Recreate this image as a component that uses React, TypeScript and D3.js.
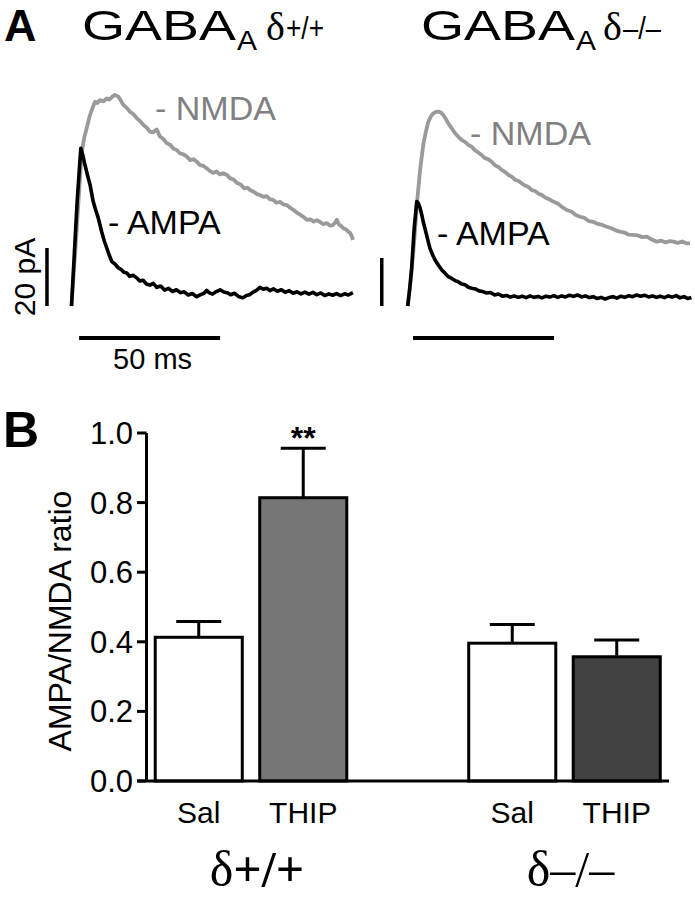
import React from "react";
import * as d3 from "d3";

// ---------- Panel A: traces, [time (ms), current (pA)] ----------
const ampaWT: [number, number][] = [
  [0, 0], [1, 18], [2, 36], [3.3, 54.4], [4, 52], [4.8, 48.6], [5.7, 45], [6.6, 41.7], [7.7, 36], [8.6, 33],
  [9.5, 30.3], [10.7, 25.6], [11.6, 22.5], [12.5, 20], [13.4, 17.5], [14.3, 15.3], [15.4, 14.5], [16.6, 13.1],
  [17.6, 12.6], [18.6, 11.6], [19.6, 11.4], [20.6, 10.2], [21.8, 10.6], [23.1, 9.7], [24.2, 8.6], [25.4, 8.9],
  [26.6, 7.6], [27.8, 7.2], [29, 7.8], [30.3, 6.4], [31.6, 6.9], [33, 5.5], [34.4, 6.1], [35.8, 5], [37.2, 5.6],
  [38.6, 4.6], [40, 4.9], [41.4, 3.8], [42.8, 4.3], [44.4, 3.2], [45.8, 3.9], [47, 4.4], [47.9, 5.4], [48.8, 4.6],
  [50, 4.1], [51.2, 4.9], [52.7, 5.6], [54, 4.8], [55.2, 4.6], [56.4, 3.9], [57.8, 4.4], [59.2, 3.3], [60.8, 2.8],
  [62, 3.6], [63.2, 3.9], [64.4, 4.8], [65.6, 5.4], [66.8, 6.4], [68, 5.8], [69.2, 6.1], [70.4, 5.3], [71.6, 5.9],
  [73, 5.1], [74.4, 5.6], [75.8, 4.7], [77.2, 5.3], [78.6, 4.4], [80, 4.9], [81.4, 4.2], [82.8, 4.8], [84.2, 4.1],
  [85.6, 4.7], [87, 3.9], [88.4, 4.5], [89.8, 3.6], [91.2, 4.2], [92.6, 3.7], [94, 4.3], [95.4, 3.6], [96.8, 4.2],
  [98.2, 3.8], [99.8, 4.6],
];

const nmdaWT: [number, number][] = [
  [0, 0], [1.2, 17], [2.4, 35], [3.6, 52.8], [4.5, 58], [5.4, 61.4], [6.3, 65], [7.2, 67.6], [8.3, 70.4], [9.2, 70],
  [10.1, 71], [11.3, 70.6], [12.5, 71.6], [13.4, 71.2], [14.4, 72.1], [15.4, 72.8], [16.6, 72.2], [17.4, 71],
  [18.4, 69.3], [19.5, 68.4], [20.7, 67], [21.9, 66.2], [23.1, 64.8], [24.3, 63.8], [25.5, 62.4], [26.7, 61.5],
  [27.8, 60.1], [29, 59.9], [30.2, 60.9], [31.4, 58.4], [32.6, 57.6], [33.8, 56.1], [35, 55.6], [36.2, 54.2],
  [37.3, 53.8], [38.5, 52.6], [39.7, 52.3], [40.9, 51.5], [42.1, 50.3], [43.3, 50.6], [44.4, 49.8], [45.6, 48.6],
  [46.8, 48.3], [47.9, 47.5], [49, 46.6], [50.2, 45.9], [51.4, 46.4], [52.6, 45.4], [53.8, 45.8], [55.1, 45.2],
  [56.3, 44], [57.5, 43.6], [58.7, 42.4], [60, 41.9], [61.2, 40.6], [62.4, 40.8], [63.3, 40], [64.6, 39.4],
  [65.8, 38.6], [66.8, 38.3], [68, 37.6], [69.2, 37.9], [70.4, 36.8], [71.5, 36.6], [72.7, 35.6], [74, 35.9],
  [75.2, 35], [76.4, 34.8], [77.6, 33.8], [78.8, 33.1], [80, 32.1], [81.2, 31.4], [82.4, 30.6], [83.5, 29.7],
  [84.7, 29.9], [85.9, 29.1], [87, 29.6], [88.1, 29], [89.3, 28.2], [90.5, 28.6], [91.6, 27.7], [92.7, 27.9],
  [93.5, 28.8], [94.1, 29.7], [94.8, 28.1], [95.6, 27.6], [96.3, 26.9], [97.2, 26.5], [98, 25.8], [98.8, 25.2],
  [99.4, 24], [99.8, 22.8],
];

const ampaKO: [number, number][] = [
  [0, 0], [0.7, 7], [1.4, 15.7], [2.3, 32.4], [3.2, 43.5], [3.8, 42.8], [4.4, 40.8], [5, 38], [5.5, 35.1],
  [6.1, 32.4], [6.7, 29.6], [7.3, 26.7], [7.9, 24], [8.8, 21.4], [9.7, 19.2], [10.9, 17], [12.1, 15], [13.2, 13.7],
  [14.4, 12.2], [15.6, 11.5], [16.8, 10.6], [17.9, 10.1], [19.1, 9.2], [20.3, 8.9], [21.5, 7.8], [22.7, 7.4],
  [24, 7.1], [25.3, 6.3], [26.6, 6], [28, 5.4], [29.4, 5.6], [30.8, 4.6], [32.2, 5], [33.6, 4.1], [35, 4.4],
  [36.4, 3.7], [37.8, 4.2], [39.2, 3.6], [40.6, 4.1], [42, 3.5], [43.4, 4.2], [44.8, 3.6], [46.2, 4], [47.6, 3.4],
  [49, 4.1], [50.4, 3.7], [51.8, 4.3], [53.2, 3.6], [54.6, 4.2], [56, 3.8], [57.4, 4.5], [58.8, 4], [60.2, 4.6],
  [61.6, 3.8], [63, 4.2], [64.4, 3.5], [65.8, 3.9], [67.2, 3.1], [68.6, 3.6], [70, 2.9], [71.4, 3.5], [72.8, 3.9],
  [74.2, 3.3], [75.6, 4.1], [77, 3.6], [78.4, 4.3], [79.8, 3.9], [81.2, 4.6], [82.6, 4.1], [84, 4.5], [85.4, 3.8],
  [86.8, 4.2], [88.2, 3.6], [89.6, 4.1], [91, 3.5], [92.4, 4.2], [93.8, 3.7], [95.2, 4.3], [96.6, 3.4], [98, 3.9],
  [99.4, 3.1], [100.6, 3.5],
];

const nmdaKO: [number, number][] = [
  [0, 0], [1, 10], [1.9, 21.3], [2.7, 33], [3.4, 44.2], [4.4, 56.7], [5.5, 67.1], [6.4, 72.5], [7.3, 76.7],
  [8.2, 79], [9.1, 80.3], [10, 80.9], [10.9, 81], [11.8, 80.6], [12.6, 79.6], [13.5, 78], [14.4, 76.1], [15.6, 74],
  [16.8, 72], [17.9, 70.6], [19.1, 69.2], [20.3, 68.4], [21.5, 67.1], [22.7, 66.4], [23.9, 64.8], [25, 64],
  [26.2, 62.9], [27.4, 61.6], [28.6, 61.1], [29.8, 60.1], [31, 58.6], [32.2, 57.9], [33.3, 56.7], [34.5, 55.9],
  [35.7, 54.6], [36.9, 53.9], [38.1, 52.6], [39.3, 52.1], [40.4, 51.1], [41.6, 50.2], [42.8, 49.6], [44, 48.3],
  [45.2, 47.9], [46.4, 46.8], [47.5, 46.3], [48.9, 45.1], [50.3, 44.4], [51.6, 43.5], [53.2, 42.7], [54.8, 41.2],
  [56.4, 40], [58, 39.4], [59.6, 37.9], [61.1, 37.2], [62.7, 36.7], [64.2, 35.4], [65.8, 35.1], [67.4, 34.2],
  [69, 33.8], [70.6, 33], [72.2, 32.4], [73.8, 31.5], [75.3, 31], [76.9, 30.6], [78.4, 29.7], [80, 29.6],
  [81.6, 29.4], [83.2, 28.7], [84.8, 28.9], [86.4, 27.8], [88.3, 26.8], [89.9, 27.2], [91.5, 26.5], [93, 27],
  [94.2, 26.8], [95.8, 26.3], [97.4, 26.9], [98.9, 26.1], [100.1, 26.1],
];

const scaleBarMs = 50;
const scaleBarPA = 20;

// ---------- Panel B: AMPA/NMDA ratio ----------
const conditions = ["Sal", "THIP", "Sal", "THIP"];
const slotIds = ["s1", "t1", "s2", "t2"];
const slotDomain = ["s1", "t1", "gap", "s2", "t2"];
const ratioMean = [0.413, 0.814, 0.396, 0.357];
const ratioSem = [0.045, 0.142, 0.054, 0.048];
const yTicks = [0, 0.2, 0.4, 0.6, 0.8, 1.0];
const genotypes = [
  { delta: "δ", rest: "+/+", slots: ["s1", "t1"], bold: true },
  { delta: "δ", rest: "–/–", slots: ["s2", "t2"], bold: false },
];

const SANS = "'Liberation Sans', Arial, Helvetica, sans-serif";
const SERIF = "'Liberation Serif', 'Times New Roman', serif";
const GRAY_TRACE = "#9a9a9a";
const GRAY_LABEL = "#808080";
const barFills = ["#ffffff", "#767676", "#ffffff", "#424242"];

type Pt = [number, number];

function TracePanel(props: {
  x0: number;
  yBase: number;
  pxPerPA: number;
  ampa: Pt[];
  nmda: Pt[];
  vBarT: number;
  hBarT: number;
  hBarY: number;
  showLabels: boolean;
  ampaLabel: [number, number];
  nmdaLabel: [number, number];
}) {
  const { x0, yBase, pxPerPA, ampa, nmda } = props;
  const x = d3.scaleLinear().domain([0, 100]).range([x0, x0 + 282]);
  const y = d3.scaleLinear().domain([0, scaleBarPA]).range([yBase, yBase - pxPerPA * scaleBarPA]);
  const line = d3
    .line<Pt>()
    .x((d) => x(d[0]))
    .y((d) => y(d[1]));
  return (
    <g>
      <path d={line(nmda) || ""} fill="none" stroke={GRAY_TRACE} strokeWidth={3.8} strokeLinejoin="round" />
      <path d={line(ampa) || ""} fill="none" stroke="#000" strokeWidth={3.6} strokeLinejoin="round" />
      <line x1={x(props.vBarT)} x2={x(props.vBarT)} y1={y(0)} y2={y(scaleBarPA)} stroke="#000" strokeWidth={3.5} />
      <line
        x1={x(props.hBarT)}
        x2={x(props.hBarT + scaleBarMs)}
        y1={props.hBarY}
        y2={props.hBarY}
        stroke="#000"
        strokeWidth={4}
      />
      <text x={props.nmdaLabel[0]} y={props.nmdaLabel[1]} fontFamily={SANS} fontSize={34} fill={GRAY_LABEL}>
        - NMDA
      </text>
      <text x={props.ampaLabel[0]} y={props.ampaLabel[1]} fontFamily={SANS} fontSize={34} fill="#000">
        - AMPA
      </text>
      {props.showLabels && (
        <>
          <text
            transform={`translate(${x(props.vBarT) - 12},${(y(0) + y(scaleBarPA)) / 2}) rotate(-90)`}
            textAnchor="middle"
            fontFamily={SANS}
            fontSize={30}
          >
            20 pA
          </text>
          <text
            x={(x(props.hBarT) + x(props.hBarT + scaleBarMs)) / 2 + 3}
            y={props.hBarY + 31}
            textAnchor="middle"
            fontFamily={SANS}
            fontSize={29}
          >
            50 ms
          </text>
        </>
      )}
    </g>
  );
}

function Title(props: { x: number; gabaLen: number; rest: string; restX: number; restLen: number }) {
  return (
    <g>
      <text x={props.x} y={40} fontFamily={SANS} fontSize={43} textLength={props.gabaLen} lengthAdjust="spacingAndGlyphs">
        GABA
      </text>
      <text x={props.x + props.gabaLen + 1} y={50} fontFamily={SANS} fontSize={28} textLength={20} lengthAdjust="spacingAndGlyphs">
        A
      </text>
      <text x={props.restX} y={40} fontFamily={SERIF} fontSize={40}>
        δ
      </text>
      <text
        x={props.restX + 20}
        y={39}
        fontFamily={SANS}
        fontSize={31}
        textLength={props.restLen}
        lengthAdjust="spacingAndGlyphs"
      >
        {props.rest}
      </text>
    </g>
  );
}

export default function App() {
  const W = 695;
  const H = 900;

  const xb = d3
    .scaleBand<string>()
    .domain(slotDomain)
    .range([146.5, 669])
    .paddingInner(0.167)
    .paddingOuter(0.0835);
  const yb = d3.scaleLinear().domain([0, 1]).range([781, 433]);

  return (
    <svg
      width={W}
      height={H}
      viewBox={`0 0 ${W} ${H}`}
      style={{ position: "absolute", left: 0, top: 0, background: "#fff" }}
    >
      <rect width={W} height={H} fill="#fff" />
      {/* Panel A */}
      <text x={4} y={41} fontFamily={SANS} fontWeight="bold" fontSize={45}>
        A
      </text>
      <Title x={82} gabaLen={154} rest="+/+" restX={266} restLen={38} />
      <Title x={421} gabaLen={154} rest="–/–" restX={603} restLen={38} />

      <TracePanel
        x0={71.5}
        yBase={306}
        pxPerPA={2.9}
        ampa={ampaWT}
        nmda={nmdaWT}
        vBarT={-8.7}
        hBarT={2.7}
        hBarY={338}
        showLabels={true}
        ampaLabel={[108, 234]}
        nmdaLabel={[155, 120]}
      />
      <TracePanel
        x0={407.7}
        yBase={306}
        pxPerPA={2.4}
        ampa={ampaKO}
        nmda={nmdaKO}
        vBarT={-9.2}
        hBarT={1.9}
        hBarY={338}
        showLabels={false}
        ampaLabel={[437, 245]}
        nmdaLabel={[470, 145]}
      />

      {/* Panel B */}
      <text x={3} y={447} fontFamily={SANS} fontWeight="bold" fontSize={50}>
        B
      </text>

      {/* bars */}
      {slotIds.map((s, i) => {
        const bx = xb(s) as number;
        const bw = xb.bandwidth();
        const cx = bx + bw / 2;
        return (
          <g key={s}>
            <line x1={cx} x2={cx} y1={yb(ratioMean[i])} y2={yb(ratioMean[i] + ratioSem[i])} stroke="#000" strokeWidth={3} />
            <line
              x1={cx - 22.5}
              x2={cx + 22.5}
              y1={yb(ratioMean[i] + ratioSem[i])}
              y2={yb(ratioMean[i] + ratioSem[i])}
              stroke="#000"
              strokeWidth={3}
            />
            <rect
              x={bx}
              y={yb(ratioMean[i])}
              width={bw}
              height={yb(0) - yb(ratioMean[i])}
              fill={barFills[i]}
              stroke="#000"
              strokeWidth={3}
            />
            <text x={cx} y={823} textAnchor="middle" fontFamily={SANS} fontSize={30}>
              {conditions[i]}
            </text>
          </g>
        );
      })}

      {/* significance */}
      <text
        x={(xb("t1") as number) + xb.bandwidth() / 2}
        y={449}
        textAnchor="middle"
        fontFamily={SANS}
        fontWeight="bold"
        fontSize={32}
      >
        **
      </text>

      {/* axes */}
      <line x1={146.5} x2={146.5} y1={yb(0)} y2={yb(1)} stroke="#000" strokeWidth={3} />
      <line x1={137} x2={669} y1={yb(0)} y2={yb(0)} stroke="#000" strokeWidth={3} />
      {yTicks.map((t) => (
        <g key={t}>
          <line x1={137} x2={146.5} y1={yb(t)} y2={yb(t)} stroke="#000" strokeWidth={3} />
          <text x={133} y={yb(t) + 11} textAnchor="end" fontFamily={SANS} fontSize={31}>
            {d3.format(".1f")(t)}
          </text>
        </g>
      ))}
      <text
        transform={`translate(71,${yb(0.5) + 14}) rotate(-90)`}
        textAnchor="middle"
        fontFamily={SANS}
        fontSize={32}
      >
        AMPA/NMDA ratio
      </text>

      {/* genotype labels */}
      {genotypes.map((g) => {
        const a = xb(g.slots[0]) as number;
        const b = (xb(g.slots[1]) as number) + xb.bandwidth();
        const c = (a + b) / 2;
        return (
          <text key={g.rest} x={c + 6} y={886} textAnchor="middle" fontFamily={SERIF} fontSize={50}>
            <tspan>{g.delta}</tspan>
            <tspan fontWeight={g.bold ? "bold" : "normal"}>{g.rest}</tspan>
          </text>
        );
      })}
    </svg>
  );
}
